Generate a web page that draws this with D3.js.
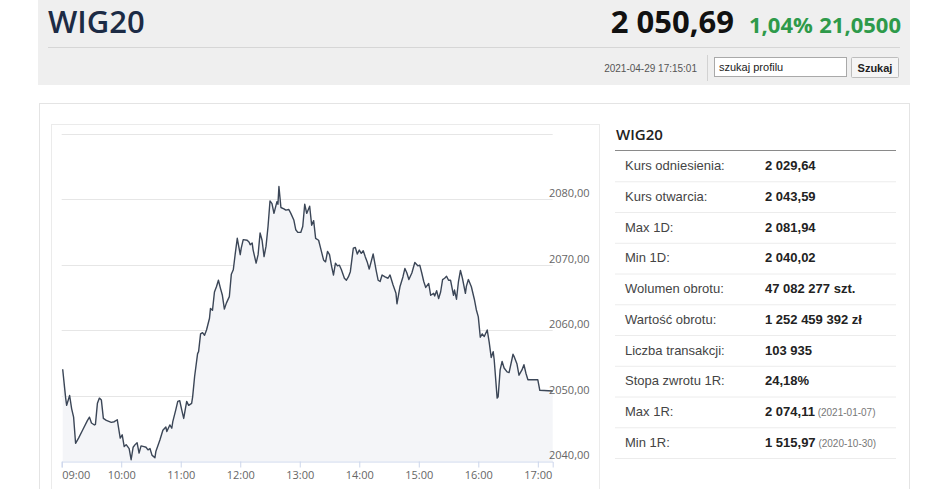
<!DOCTYPE html>
<html>
<head>
<meta charset="utf-8">
<script src="https://cdn.jsdelivr.net/npm/d3@7"></script>
<style>
  body { margin: 0; background: #fff; }
  svg { display: block; }
</style>
</head>
<body>
<svg id="page" width="948" height="489"></svg>
<script>
// intraday WIG20, minutes after 09:00 and index level
const sessionStart = new Date(2021, 3, 29, 9, 0);
const sessionEnd = new Date(2021, 3, 29, 17, 15);
const minuteOffsets = [1,4,5,8,10,12,14,17,21,26,28,30,33,34,36,38,40,42,45,50,53,56,59,61,63,65,68,70,72,74,76,78,80,83,85,87,89,91,94,95,99,102,105,106,109,111,112,115,117,119,121,123,126,128,131,132,134,137,138,140,142,144,146,149,150,152,154,156,158,160,162,164,166,169,171,173,175,177,180,181,183,187,189,190,192,193,196,198,200,202,204,206,208,210,212,214,217,218,219,221,224,226,229,231,234,236,238,241,243,245,247,250,252,254,256,259,261,264,266,268,270,272,274,276,278,280,282,285,287,289,291,294,296,298,300,302,304,306,308,310,314,317,319,321,323,326,329,331,334,337,338,341,344,346,348,350,353,356,359,361,363,365,367,370,372,375,376,378,380,382,384,386,388,390,392,395,396,398,400,402,404,407,408,410,413,416,418,420,422,424,426,429,431,433,435,436,439,440,442,444,446,449,451,455,456,459,461,464,466,468,470,480,482,495];
const indexValues = [2054.0,2049.6,2048.5,2050.0,2048.0,2046.7,2042.7,2043.5,2044.7,2046.2,2046.7,2045.8,2045.5,2045.6,2048.8,2049.6,2049.3,2046.5,2046.2,2045.9,2046.0,2046.3,2043.5,2044.0,2042.2,2042.5,2041.9,2040.2,2042.1,2042.5,2042.8,2041.2,2042.3,2042.2,2042.1,2041.7,2041.9,2040.9,2040.5,2041.5,2043.2,2044.7,2045.2,2044.5,2045.5,2045.0,2046.0,2047.8,2049.1,2049.2,2047.8,2046.5,2049.1,2048.5,2048.8,2049.8,2052.9,2056.4,2056.7,2059.4,2059.6,2059.2,2060.0,2061.8,2063.3,2063.0,2065.8,2066.6,2067.6,2066.4,2065.3,2063.2,2064.1,2065.1,2068.5,2069.2,2071.7,2074.0,2071.5,2072.5,2073.8,2073.7,2073.4,2073.0,2073.3,2072.2,2070.2,2071.5,2074.8,2073.7,2071.2,2072.8,2075.8,2079.7,2079.3,2077.8,2079.6,2079.2,2081.9,2078.7,2078.5,2078.3,2078.4,2077.8,2076.8,2075.3,2074.9,2074.9,2075.8,2079.2,2077.8,2078.9,2076.0,2076.7,2074.0,2073.7,2072.5,2070.7,2070.4,2072.0,2071.5,2069.8,2068.4,2070.2,2069.8,2069.9,2069.2,2067.9,2067.6,2068.1,2068.9,2072.5,2072.6,2071.6,2072.2,2071.7,2072.1,2071.2,2070.4,2069.3,2071.6,2069.1,2067.6,2067.4,2068.4,2068.1,2067.9,2068.4,2066.9,2065.6,2064.0,2066.6,2068.1,2069.4,2068.7,2067.7,2068.7,2070.3,2069.8,2069.9,2068.7,2067.4,2066.5,2067.1,2065.3,2065.6,2065.2,2066.0,2064.8,2065.8,2067.7,2067.9,2068.2,2067.6,2067.6,2065.3,2066.1,2064.7,2067.4,2069.1,2067.9,2065.6,2066.7,2067.7,2066.6,2064.7,2063.1,2062.0,2058.9,2059.4,2059.0,2060.0,2058.1,2055.8,2056.7,2055.5,2049.6,2049.8,2053.9,2055.2,2054.2,2053.6,2053.5,2056.3,2056.0,2054.8,2053.1,2053.9,2054.7,2053.4,2052.4,2052.4,2050.8,2050.69];
const yTicks = [2040, 2050, 2060, 2070, 2080, 2090];

// quote header
const quoteName = 'WIG20';
const quoteLast = '2 050,69';
const quoteChangePct = '1,04%';
const quoteChange = '21,0500';
const quoteTime = '2021-04-29 17:15:01';

// side table
const statLabels = ['Kurs odniesienia:', 'Kurs otwarcia:', 'Max 1D:', 'Min 1D:', 'Wolumen obrotu:',
  'Wartość obrotu:', 'Liczba transakcji:', 'Stopa zwrotu 1R:', 'Max 1R:', 'Min 1R:'];
const statValues = ['2 029,64', '2 043,59', '2 081,94', '2 040,02', '47 082 277 szt.',
  '1 252 459 392 zł', '103 935', '24,18%', '2 074,11', '1 515,97'];
const statNotes = ['', '', '', '', '', '', '', '', '(2021-01-07)', '(2020-10-30)'];

const svg = d3.select('#page');

// ---- header band
svg.append('rect').attr('x', 38).attr('y', 0).attr('width', 872).attr('height', 85).attr('fill', '#efefef');
svg.append('text').attr('x', 48).attr('y', 33).text(quoteName)
  .style('font-family', 'Open Sans').style('font-size', '31px').style('font-weight', 600).attr('fill', '#1c2b45');
svg.append('text').attr('x', 734).attr('y', 33).attr('text-anchor', 'end').text(quoteLast)
  .style('font-family', 'Open Sans').style('font-size', '31px').style('font-weight', 700).attr('fill', '#111');
svg.append('text').attr('x', 749).attr('y', 33).text(quoteChangePct)
  .style('font-family', 'Open Sans').style('font-size', '22px').style('font-weight', 700).attr('fill', '#2e9a4a');
svg.append('text').attr('x', 901).attr('y', 33).attr('text-anchor', 'end').text(quoteChange)
  .style('font-family', 'Open Sans').style('font-size', '22px').style('font-weight', 700).attr('fill', '#2e9a4a');
svg.append('line').attr('x1', 48).attr('x2', 900).attr('y1', 47.5).attr('y2', 47.5).attr('stroke', '#d6d6d6');

svg.append('text').attr('x', 697).attr('y', 72).attr('text-anchor', 'end').text(quoteTime)
  .style('font-family', 'Liberation Sans').style('font-size', '10px').attr('fill', '#555');
svg.append('line').attr('x1', 707.5).attr('x2', 707.5).attr('y1', 55).attr('y2', 81).attr('stroke', '#d2d2d2');
svg.append('rect').attr('x', 714.5).attr('y', 57.5).attr('width', 132).attr('height', 19)
  .attr('fill', '#fff').attr('stroke', '#a9a9a9');
svg.append('text').attr('x', 719).attr('y', 71).text('szukaj profilu')
  .style('font-family', 'Liberation Sans').style('font-size', '11px').attr('fill', '#222');
svg.append('rect').attr('x', 851.5).attr('y', 57.5).attr('width', 47).attr('height', 20).attr('rx', 1)
  .attr('fill', '#f5f5f5').attr('stroke', '#bdbdbd');
svg.append('text').attr('x', 875).attr('y', 72).attr('text-anchor', 'middle').text('Szukaj')
  .style('font-family', 'Liberation Sans').style('font-size', '11px').style('font-weight', 700).attr('fill', '#222');

// ---- panels
svg.append('rect').attr('x', 39.5).attr('y', 103.5).attr('width', 870).attr('height', 420)
  .attr('fill', '#fff').attr('stroke', '#e4e4e4');
svg.append('rect').attr('x', 51.5).attr('y', 124.5).attr('width', 548).attr('height', 420)
  .attr('fill', '#fff').attr('stroke', '#ebebeb');

// ---- chart
const points = minuteOffsets.map((m, i) => ({
  t: d3.timeMinute.offset(sessionStart, m),
  v: indexValues[i]
}));

const x = d3.scaleTime().domain([sessionStart, sessionEnd]).range([61.7, 552.7]);
const y = d3.scaleLinear().domain([2040, 2090]).range([461, 133.5]);
const pl = d3.formatLocale({ decimal: ',', thousands: ' ', grouping: [3], currency: ['', ' zł'] });

const chart = svg.append('g');

// grid lines
chart.append('g').selectAll('line')
  .data(yTicks.filter(d => d !== 2040))
  .join('line')
  .attr('x1', 61.7).attr('x2', 552.7)
  .attr('y1', d => Math.round(y(d)) + 0.5).attr('y2', d => Math.round(y(d)) + 0.5)
  .attr('stroke', '#e6e6e6');

// area + line
const area = d3.area().x(d => x(d.t)).y0(y(2040)).y1(d => y(d.v));
const line = d3.line().x(d => x(d.t)).y(d => y(d.v));
chart.append('path').datum(points).attr('d', area).attr('fill', '#f4f5f8');
chart.append('path').datum(points).attr('d', line)
  .attr('fill', 'none').attr('stroke', '#3b4657').attr('stroke-width', 1.4).attr('stroke-linejoin', 'round');

// y labels
chart.append('g').selectAll('text')
  .data(yTicks.filter(d => d !== 2090))
  .join('text')
  .attr('x', 549).attr('y', d => y(d) - 2)
  .text(d => pl.format('.2f')(d))
  .style('font-family', 'Open Sans').style('font-size', '11px').attr('fill', '#666');

// x axis
const xAxis = d3.axisBottom(x)
  .ticks(d3.timeHour.every(1))
  .tickFormat(d3.timeFormat('%H:%M'))
  .tickSize(6).tickPadding(4);
const gx = chart.append('g').attr('transform', `translate(0,${y(2040) + 0.5})`).call(xAxis);
gx.select('.domain').attr('stroke', '#ccd6eb');
gx.selectAll('.tick line').attr('stroke', '#ccd6eb');
gx.selectAll('.tick text')
  .style('font-family', 'Open Sans').style('font-size', '11px').attr('fill', '#666')
  .attr('text-anchor', (d, i) => i === 0 ? 'start' : 'middle');

// ---- stats table
const tbl = svg.append('g');
tbl.append('text').attr('x', 616).attr('y', 140).text(quoteName)
  .style('font-family', 'Open Sans').style('font-size', '15px').style('font-weight', 600).attr('fill', '#222');
tbl.append('line').attr('x1', 615).attr('x2', 896).attr('y1', 150.5).attr('y2', 150.5).attr('stroke', '#8a8a8a');

const rowH = 30.75;
const rowTop = 151;
const rows = tbl.selectAll('g.row')
  .data(statLabels)
  .join('g').attr('class', 'row')
  .attr('transform', (d, i) => `translate(0,${rowTop + i * rowH})`);
rows.append('line').attr('x1', 615).attr('x2', 896)
  .attr('y1', rowH).attr('y2', rowH).attr('stroke', '#ececec');
rows.append('text').attr('x', 625).attr('y', 19).text(d => d)
  .style('font-family', 'Liberation Sans').style('font-size', '13px').attr('fill', '#444');
const vt = rows.append('text').attr('x', 765).attr('y', 19)
  .style('font-family', 'Liberation Sans').style('font-size', '13px');
vt.append('tspan').text((d, i) => statValues[i]).style('font-weight', 700).attr('fill', '#222');
vt.append('tspan').text((d, i) => statNotes[i] ? ' ' + statNotes[i] : '')
  .style('font-size', '10px').attr('fill', '#777');
</script>
</body>
</html>
